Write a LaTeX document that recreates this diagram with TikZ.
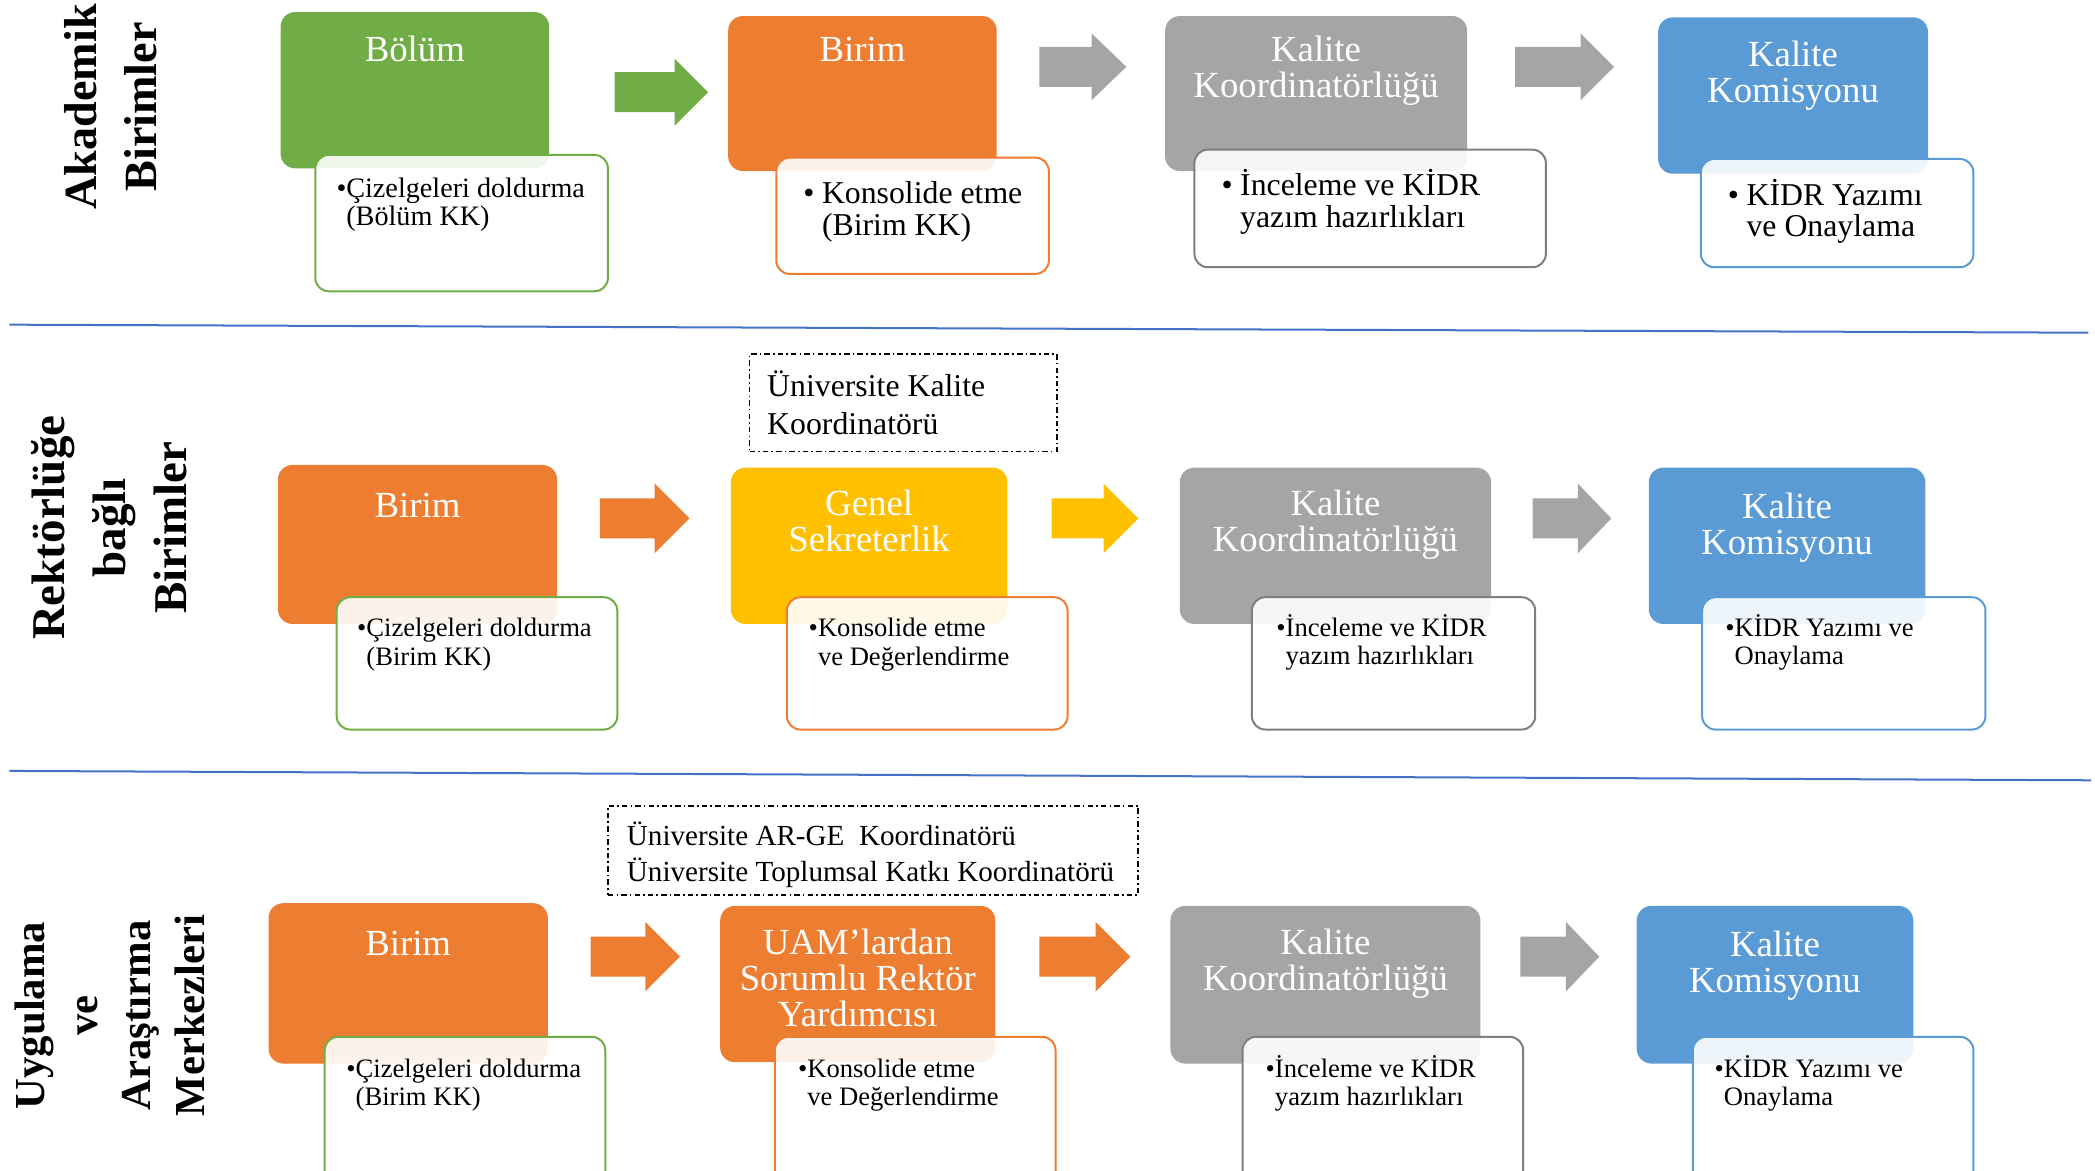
\documentclass[tikz,border=0pt]{standalone}
\usepackage{fontspec}
\setmainfont{Liberation Serif}
\usetikzlibrary{fit}
\definecolor{accgreen}{HTML}{70AD47}
\definecolor{accorange}{HTML}{ED7D31}
\definecolor{accgray}{HTML}{A5A5A5}
\definecolor{accgrayline}{HTML}{7F7F7F}
\definecolor{accblue}{HTML}{5B9BD5}
\definecolor{accyellow}{HTML}{FFC000}
\definecolor{sepblue}{HTML}{4472C4}
\begin{document}
\begin{tikzpicture}[x=0.3mm, y=-0.3mm,
	mainbox/.style={rounded corners=3.3mm, inner sep=0pt},
	subbox/.style={draw, line width=0.45mm, fill=white, fill opacity=0.9, rounded corners=3mm, inner sep=0pt},
	boxtitle/.style={anchor=north, inner sep=0pt, align=center, text=white, font=\fontsize{23.5}{23}\selectfont},
	itemtext/.style={anchor=north west, inner sep=0pt, align=left},
	notebox/.style={draw, line width=0.4mm, dash pattern=on 3.5pt off 2pt on 1pt off 2pt, inner sep=0pt},
	rowlabel/.style={rotate=90, align=center, inner sep=0pt},
	sepline/.style={sepblue, line width=0.45mm}]
	\useasboundingbox (0,0) rectangle (1568,876);
	\clip (0,0) rectangle (1568,876);
	% row 1
	\node[rowlabel, font=\bfseries\fontsize{29.5}{38}\selectfont] (lab1) at (83,80) {Akademik\\Birimler};
	\node[mainbox, fill=accgreen, fit={(210,9) (411,126)}] (m11) {};
	\node[mainbox, fill=accorange, fit={(545,12) (746,128)}] (m12) {};
	\node[mainbox, fill=accgray, fit={(872,12) (1098,128)}] (m13) {};
	\node[mainbox, fill=accblue, fit={(1241,13) (1443,130)}] (m14) {};
	\node[subbox, draw=accgreen, fit={(236,116) (455,218)}] (s11) {};
	\node[subbox, draw=accorange, fit={(581,118) (785,205)}] (s12) {};
	\node[subbox, draw=accgrayline, fit={(894,112) (1157,200)}] (s13) {};
	\node[subbox, draw=accblue, fit={(1273,119) (1477,200)}] (s14) {};
	\node[boxtitle] (t11) at (310.5,26.7) {Bölüm};
	\node[boxtitle] (t12) at (645.5,27.7) {Birim};
	\node[boxtitle] (t13) at (985,26.7) {Kalite\\Koordinatörlüğü};
	\node[boxtitle] (t14) at (1342,30.7) {Kalite\\Komisyonu};
	\node[itemtext, font=\fontsize{18}{18}\selectfont] (i11) at (259,132.7) {\llap{•}Çizelgeleri doldurma\\(Bölüm KK)};
	\node[itemtext, font=\fontsize{20.3}{20.4}\selectfont] (i12) at (615,135.6) {\llap{•\hspace{4.8pt}}Konsolide etme\\(Birim KK)};
	\node[itemtext, font=\fontsize{20.3}{20.4}\selectfont] (i13) at (928,126.6) {\llap{•\hspace{4.8pt}}İnceleme ve KİDR\\yazım hazırlıkları};
	\node[itemtext, font=\fontsize{20.3}{20.4}\selectfont] (i14) at (1307,133.6) {\llap{•\hspace{4.8pt}}KİDR Yazımı\\ve Onaylama};
	\fill[accgreen] (460,54) -- (505,54) -- (505,44) -- (530,69) -- (505,94) -- (505,84) -- (460,84) -- cycle;
	\fill[accgray] (778,35) -- (817,35) -- (817,25) -- (843,50) -- (817,75) -- (817,65) -- (778,65) -- cycle;
	\fill[accgray] (1134,35) -- (1183,35) -- (1183,25) -- (1208,50) -- (1183,75) -- (1183,65) -- (1134,65) -- cycle;
	\coordinate (sep1a) at (7,243);
	\coordinate (sep1b) at (1563,249);
	\draw[sepline] (sep1a) -- (sep1b);
	% row 2
	\node[rowlabel, font=\bfseries\fontsize{30}{39}\selectfont] (lab2) at (82,395) {Rektörlüğe\\bağlı\\Birimler};
	\node[notebox, fit={(561,265) (791,338)}] (n2) {};
	\node[itemtext, font=\fontsize{20.3}{24.7}\selectfont] (nt2) at (574,277) {Üniversite Kalite\\Koordinatörü};
	\node[mainbox, fill=accorange, fit={(208,348) (417,467)}] (m21) {};
	\node[mainbox, fill=accyellow, fit={(547,350) (754,467)}] (m22) {};
	\node[mainbox, fill=accgray, fit={(883,350) (1116,467)}] (m23) {};
	\node[mainbox, fill=accblue, fit={(1234,350) (1441,467)}] (m24) {};
	\node[subbox, draw=accgreen, fit={(252,447) (462,546)}] (s21) {};
	\node[subbox, draw=accorange, fit={(589,447) (799,546)}] (s22) {};
	\node[subbox, draw=accgrayline, fit={(937,447) (1149,546)}] (s23) {};
	\node[subbox, draw=accblue, fit={(1274,447) (1486,546)}] (s24) {};
	\node[boxtitle] (t21) at (312.5,368.7) {Birim};
	\node[boxtitle] (t22) at (650.5,366.7) {Genel\\Sekreterlik};
	\node[boxtitle] (t23) at (999.5,366.7) {Kalite\\Koordinatörlüğü};
	\node[boxtitle] (t24) at (1337.5,368.7) {Kalite\\Komisyonu};
	\node[itemtext, font=\fontsize{17}{18}\selectfont] (i21) at (274,462.6) {\llap{•}Çizelgeleri doldurma\\(Birim KK)};
	\node[itemtext, font=\fontsize{17}{18}\selectfont] (i22) at (612,462.6) {\llap{•}Konsolide etme\\ve Değerlendirme};
	\node[itemtext, font=\fontsize{17}{18}\selectfont] (i23) at (962,459.6) {\llap{•}İnceleme ve KİDR\\yazım hazırlıkları};
	\node[itemtext, font=\fontsize{17}{18}\selectfont] (i24) at (1298,459.6) {\llap{•}KİDR Yazımı ve\\Onaylama};
	\fill[accorange] (449,373) -- (490,373) -- (490,362) -- (516,388) -- (490,414) -- (490,403) -- (449,403) -- cycle;
	\fill[accyellow] (787,373) -- (826,373) -- (826,362) -- (852,388) -- (826,414) -- (826,403) -- (787,403) -- cycle;
	\fill[accgray] (1147,373) -- (1181,373) -- (1181,362) -- (1206,388) -- (1181,414) -- (1181,403) -- (1147,403) -- cycle;
	\coordinate (sep2a) at (7,577);
	\coordinate (sep2b) at (1565,584);
	\draw[sepline] (sep2a) -- (sep2b);
	% row 3
	\node[rowlabel, font=\bfseries\fontsize{27.3}{34}\selectfont] (lab3) at (82,760) {Uygulama\\ve\\Araştırma\\Merkezleri};
	\node[notebox, fit={(455,603) (852,670)}] (n3) {};
	\node[itemtext, font=\fontsize{18.6}{23}\selectfont] (nt3) at (469,615.2) {Üniversite AR-GE\ \ Koordinatörü\\Üniversite Toplumsal Katkı Koordinatörü};
	\node[mainbox, fill=accorange, fit={(201,676) (410,796)}] (m31) {};
	\node[mainbox, fill=accorange, fit={(539,678) (745,795)}] (m32) {};
	\node[mainbox, fill=accgray, fit={(876,678) (1108,796)}] (m33) {};
	\node[mainbox, fill=accblue, fit={(1225,678) (1432,796)}] (m34) {};
	\node[subbox, draw=accgreen, fit={(243,776) (453,890)}] (s31) {};
	\node[subbox, draw=accorange, fit={(580,776) (790,890)}] (s32) {};
	\node[subbox, draw=accgrayline, fit={(930,776) (1140,890)}] (s33) {};
	\node[subbox, draw=accblue, fit={(1267,776) (1477,890)}] (s34) {};
	\node[boxtitle] (t31) at (305.5,696.7) {Birim};
	\node[boxtitle] (t32) at (642,694.7) {UAM’lardan\\Sorumlu Rektör\\Yardımcısı};
	\node[boxtitle] (t33) at (992,694.7) {Kalite\\Koordinatörlüğü};
	\node[boxtitle] (t34) at (1328.5,696.7) {Kalite\\Komisyonu};
	\node[itemtext, font=\fontsize{17}{18}\selectfont] (i31) at (266,792.6) {\llap{•}Çizelgeleri doldurma\\(Birim KK)};
	\node[itemtext, font=\fontsize{17}{18}\selectfont] (i32) at (604,792.6) {\llap{•}Konsolide etme\\ve Değerlendirme};
	\node[itemtext, font=\fontsize{17}{18}\selectfont] (i33) at (954,789.6) {\llap{•}İnceleme ve KİDR\\yazım hazırlıkları};
	\node[itemtext, font=\fontsize{17}{18}\selectfont] (i34) at (1290,789.6) {\llap{•}KİDR Yazımı ve\\Onaylama};
	\fill[accorange] (442,701) -- (483,701) -- (483,690) -- (509,716) -- (483,742) -- (483,731) -- (442,731) -- cycle;
	\fill[accorange] (778,701) -- (820,701) -- (820,690) -- (846,716) -- (820,742) -- (820,731) -- (778,731) -- cycle;
	\fill[accgray] (1138,701) -- (1172,701) -- (1172,690) -- (1197,716) -- (1172,742) -- (1172,731) -- (1138,731) -- cycle;
\end{tikzpicture}
\end{document}
